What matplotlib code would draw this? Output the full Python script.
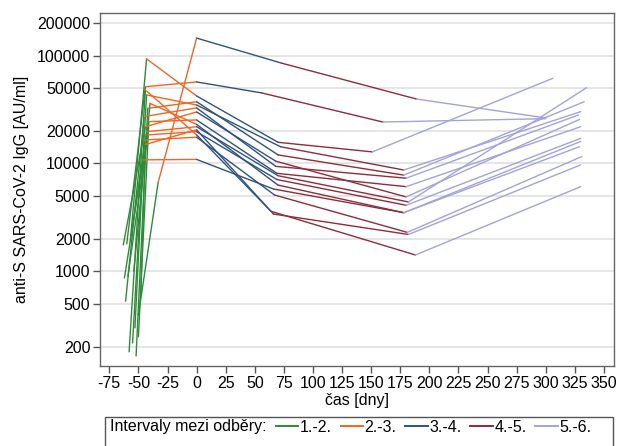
"""
Anti-S SARS-CoV-2 IgG v case - jednotlive trajektorie pacientu mezi odbery.
"""

import numpy as np
import matplotlib.pyplot as plt
from matplotlib.lines import Line2D
from matplotlib.patches import Rectangle
from matplotlib.ticker import NullLocator

plt.rcParams['font.family'] = ['Liberation Sans', 'DejaVu Sans']

# casy (dny) a hodnoty IgG [AU/ml] pro 6 odberu, jeden prvek = jeden pacient
day1 = [-50, -57, -60, -62, -58, -55, -52, -61, -50, -63, -56, -59, -54, -53, -48]
igg1 = [395, 1900, 1800, 870, 180, 218, 165, 530, 248, 1760, 2200, 900, 1000, 300, 600]
day2 = [-33, -43, -44, -46, -44, -43, -42, -45, -41, -44, -43, -42, -40, -45, -44]
igg2 = [6700, 93000, 51400, 10800, 47900, 43100, 32400, 27200, 24400, 21900, 19700, 18400, 36000, 16500, 15000]
day3 = [0, 0, 0, 0, 0, 0, 0, 0, 0, 0, 0, 0, 0, 0, 0]
igg3 = [145000, 42200, 56900, 10900, 18400, 34800, 37300, 32700, 25300, 30000, 21900, 19700, 23000, 17500, 20500]
day4 = [73, 70, 56, 66, 64, 72, 70, 68, 69, 68, 70, 69, 70, 67, 66]
igg4 = [85000, 15700, 45000, 5800, 3600, 14300, 12000, 9400, 8100, 10500, 7700, 7100, 6300, 5100, 3400]
day5 = [189, 151, 160, 178, 188, 178, 178, 180, 180, 180, 182, 180, 178, 181, 182]
igg5 = [39500, 12800, 24200, 3500, 1420, 8700, 7800, 7300, 6100, 4900, 4400, 4100, 3500, 2300, 2200]
day6 = [300, 306, 300, 330, 330, 330, 333, 328, 330, 329, 335, 330, 329, 331, 330]
igg6 = [26400, 61500, 26000, 16000, 6100, 30200, 37300, 28100, 21900, 25600, 50300, 17100, 14300, 11600, 9700]

intervals = ['1.-2.', '2.-3.', '3.-4.', '4.-5.', '5.-6.']
colors = ['#2e8b3a', '#f26522', '#2f5380', '#8e2d3c', '#a3a3dc']

x_ticks = list(range(-75, 351, 25))
y_ticks = [200, 500, 1000, 2000, 5000, 10000, 20000, 50000, 100000, 200000]


def main():
    days = np.array([day1, day2, day3, day4, day5, day6], dtype=float)
    vals = np.array([igg1, igg2, igg3, igg4, igg5, igg6], dtype=float)

    W, H = 617, 446
    fig = plt.figure(figsize=(W / 100, H / 100), dpi=100)
    ax = fig.add_axes([100 / W, 1 - 366 / H, 514 / W, 353 / H])

    # segmenty mezi odbery, barva podle intervalu
    for k in range(5):
        for p in range(days.shape[1]):
            ax.plot(days[k:k + 2, p], vals[k:k + 2, p], color=colors[k], lw=1.0,
                    solid_capstyle='round', zorder=2 + k)

    ax.set_yscale('log')
    ax.set_xlim(-83, 358.6)
    ax.set_ylim(133, 247600)
    ax.set_yticks(y_ticks)
    ax.set_yticklabels([str(v) for v in y_ticks])
    ax.yaxis.set_minor_locator(NullLocator())
    ax.set_xticks(x_ticks)
    ax.set_xticklabels([str(v) for v in x_ticks])

    ax.grid(axis='y', color='#e3e3e3', lw=1.3, zorder=0)
    ax.set_axisbelow(True)
    for s in ax.spines.values():
        s.set_color('#666666')
        s.set_linewidth(1.0)
    ax.tick_params(direction='out', length=5, width=1, color='#555555',
                   labelsize=11.5, pad=2)

    ax.set_xlabel('čas [dny]', fontsize=11.5, labelpad=2)
    ax.set_ylabel('anti-S SARS-CoV-2 IgG [AU/ml]', fontsize=11.5, labelpad=6)

    # legenda v ramecku pod grafem
    fig.patches.append(Rectangle((105 / W, -0.02), 508 / W, 1 - 417 / H + 0.02,
                                 transform=fig.transFigure, fill=False,
                                 edgecolor='#555555', lw=1.0))
    fig.text(110 / W, 1 - 427 / H, 'Intervaly mezi odběry:', fontsize=11.5,
             va='center', ha='left')
    handles = [Line2D([0], [0], color=c, lw=1.4) for c in colors]
    fig.legend(handles, intervals, ncol=5, frameon=False, fontsize=11.5,
               loc='center left', bbox_to_anchor=(276 / W, 1 - 427 / H),
               handlelength=1.4, handletextpad=0.1, columnspacing=0.55,
               borderaxespad=0, borderpad=0)

    fig.savefig('out.png', dpi=100)


if __name__ == '__main__':
    main()
